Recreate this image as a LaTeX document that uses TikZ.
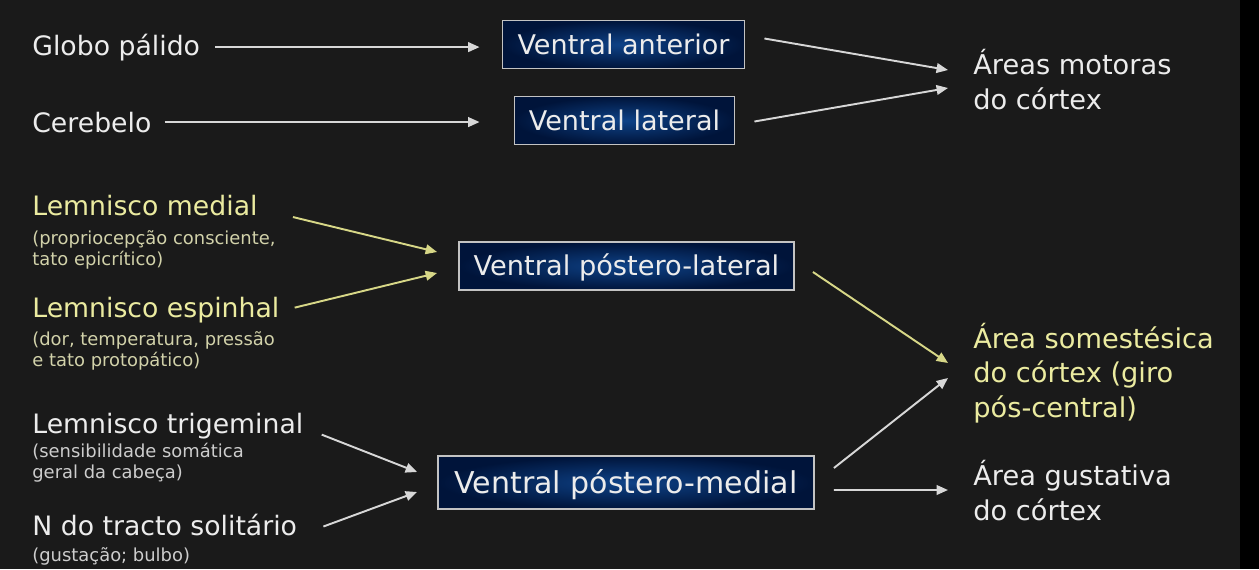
\documentclass[tikz,border=0pt]{standalone}
\usepackage{fontspec}
\setmainfont{DejaVu Sans}
\usetikzlibrary{arrows.meta,calc}
\definecolor{bg}{RGB}{26,26,26}
\definecolor{txt}{RGB}{236,236,236}
\definecolor{subw}{RGB}{205,205,205}
\definecolor{ylw}{RGB}{235,235,160}
\definecolor{ysub}{RGB}{210,210,170}
\definecolor{yarr}{RGB}{215,215,135}
\definecolor{warr}{RGB}{215,215,215}
\definecolor{boxin}{RGB}{14,66,135}
\definecolor{boxout}{RGB}{0,20,58}
\definecolor{boxline}{RGB}{195,195,195}
\begin{document}
\begin{tikzpicture}[x=0.02cm,y=-0.02cm,
  lbl/.style={anchor=base west, inner sep=0, text=txt, font=\fontsize{15.2}{19}\selectfont},
  ylbl/.style={lbl, text=ylw},
  sublbl/.style={anchor=base west, inner sep=0, align=left, text=subw, font=\fontsize{10.2}{11.6}\selectfont},
  ysublbl/.style={sublbl, text=ysub},
  rlbl/.style={anchor=base west, inner sep=0, align=left, text=txt, font=\fontsize{15.5}{19.6}\selectfont},
  yrlbl/.style={rlbl, text=ylw},
  thal/.style={draw=boxline, line width=1.1pt, inner color=boxin, outer color=boxout,
     text=txt, inner sep=0, text depth=0pt},
  arr/.style={draw=warr, line width=1.1pt, -{Triangle[length=6.5pt,width=5.5pt]}},
  yar/.style={arr, draw=yarr, fill=yarr},
]
\fill[bg] (0,0) rectangle (1259,569);
\fill[black] (1240,0) rectangle (1259,569);
\useasboundingbox (0,0) rectangle (1259,569);

% thalamic nuclei
\node[thal, minimum width=4.84cm, minimum height=0.96cm, text height=11.2pt,
  font=\fontsize{15.4}{18}\selectfont] (va) at (623.5,44.5) {Ventral anterior};
\node[thal, minimum width=4.40cm, minimum height=0.96cm, text height=11.2pt,
  font=\fontsize{15.4}{18}\selectfont] (vl) at (624.5,120.5) {Ventral lateral};
\node[thal, minimum width=6.70cm, minimum height=0.96cm, text height=11.3pt,
  font=\fontsize{15.5}{18}\selectfont] (vpl) at (626.5,266) {Ventral póstero-lateral};
\node[thal, minimum width=7.52cm, minimum height=1.06cm, text height=12.5pt,
  font=\fontsize{17.1}{20}\selectfont] (vpm) at (626,482.5) {Ventral póstero-medial};

% inputs (multi-line nodes are placed at the baseline of their last line)
\node[lbl] (gp) at (32,55) {Globo pálido};
\node[lbl] (ce) at (32,132) {Cerebelo};
\node[ylbl] (lm) at (32,215) {Lemnisco medial};
\node[ysublbl] (lms) at (32,265) {(propriocepção consciente,\\tato epicrítico)};
\node[ylbl] (le) at (32,317) {Lemnisco espinhal};
\node[ysublbl] (les) at (32,366) {(dor, temperatura, pressão\\e tato protopático)};
\node[lbl] (lt) at (32,433) {Lemnisco trigeminal};
\node[sublbl] (lts) at (32,478) {(sensibilidade somática\\geral da cabeça)};
\node[lbl] (nts) at (32,535) {N do tracto solitário};
\node[sublbl] (ntss) at (32,561) {(gustação; bulbo)};

% cortical targets
\node[rlbl] (motor) at (973,109) {Áreas motoras\\do córtex};
\node[yrlbl] (soma) at (973,417) {Área somestésica\\do córtex (giro\\pós-central)};
\node[rlbl] (gust) at (973,520) {Área gustativa\\do córtex};

\coordinate (motorA) at (948,70);
\coordinate (motorB) at (948,88);
\coordinate (somaA) at (948,363);
\coordinate (somaB) at (948,378);
\coordinate (gustA) at (948,490);

% connectors
\draw[arr] ($(gp.east)+(15,0)$) -- ($(gp.east -| va.west)+(-22,0)$);
\draw[arr] ($(ce.east)+(13,0)$) -- ($(ce.east -| vl.west)+(-34,0)$);
\draw[arr] ($(va.east)+(19,-6)$) -- (motorA);
\draw[arr] ($(vl.east)+(19,1)$) -- (motorB);

\draw[yar] ($(lm.east)+(35,12)$) -- ($(vpl.west)+(-21,-14)$);
\draw[yar] ($(le.east)+(15,-2)$) -- ($(vpl.west)+(-21,7)$);
\draw[yar] ($(vpl.east)+(18,6)$) -- (somaA);

\draw[arr] ($(lt.east)+(18,9)$) -- ($(vpm.west)+(-20,-10.5)$);
\draw[arr] ($(nts.east)+(26,2)$) -- ($(vpm.west)+(-20,9.5)$);
\draw[arr] ($(vpm.east)+(19,-14.5)$) -- (somaB);
\draw[arr] ($(vpm.east)+(19,7.5)$) -- (gustA);
\end{tikzpicture}
\end{document}
